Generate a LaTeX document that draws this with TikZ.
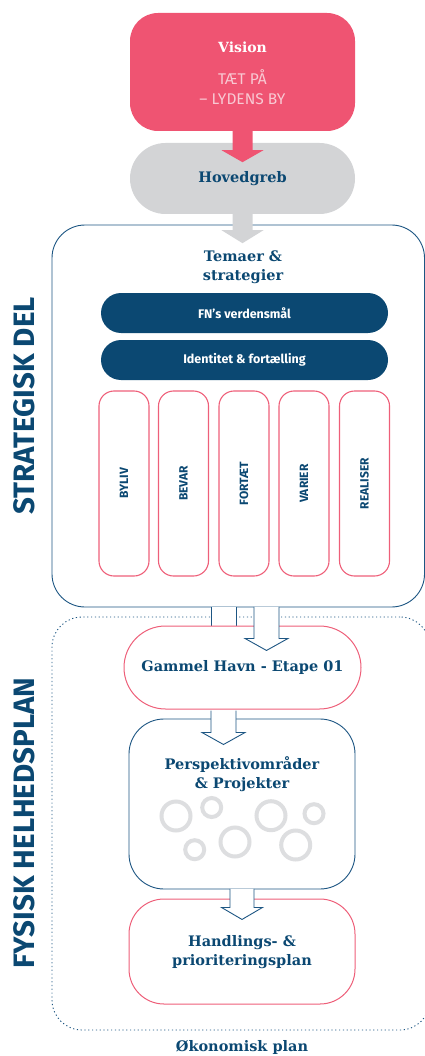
\documentclass[tikz,border=0pt]{standalone}
\usepackage{fontspec}
\setmainfont{DejaVu Serif}
\newfontfamily\fira{Fira Sans}
\usetikzlibrary{calc}

\definecolor{vispink}{HTML}{EF5472}
\definecolor{palepink}{HTML}{F8C9D3}
\definecolor{linepink}{HTML}{EE5F79}
\definecolor{darkblue}{HTML}{0B4872}
\definecolor{lineblue}{HTML}{1D5683}
\definecolor{greybox}{HTML}{D3D4D6}
\definecolor{bubblegrey}{HTML}{DDDEE0}

\tikzset{
  headtext/.style={text=darkblue, font=\bfseries\fontsize{14.5}{19}\selectfont, align=center},
  pill/.style={fill=darkblue, text=white, font=\fira\bfseries\fontsize{12.5}{14}\selectfont,
    rounded corners=20pt, minimum width=287pt, minimum height=40pt},
  themebox/.style={draw=linepink, line width=1.1pt, rounded corners=15pt, rotate=90,
    minimum width=185pt, minimum height=50pt, text=darkblue, font=\fira\bfseries\fontsize{12}{12}\selectfont},
  pinkbox/.style={draw=linepink, line width=1pt, fill=white},
  bluebox/.style={draw=lineblue, line width=0.9pt, fill=white},
  blockarrow/.style={draw=lineblue, fill=white, line width=0.9pt},
  bubble/.style={draw=bubblegrey, line width=4pt},
  sidetext/.style={rotate=90, text=darkblue, font=\fira\bfseries\fontsize{29.5}{30}\selectfont}
}

\begin{document}
\begin{tikzpicture}[x=1pt,y=-1pt,every node/.style={inner sep=0pt}]
\useasboundingbox (0,0) rectangle (425,1056);

% frames
\node[draw=lineblue, line width=0.9pt, dash pattern=on 1.2pt off 2.6pt, rounded corners=30pt,
  minimum width=378pt, minimum height=413pt] (fysisk) at (241,823.5) {};
\node[draw=lineblue, line width=0.9pt, rounded corners=33pt,
  minimum width=372.5pt, minimum height=382pt] (strat) at (238.25,416) {};

\node[sidetext] (stratlbl) at (24,406) {STRATEGISK DEL};
\node[sidetext] (fysisklbl) at (24,823) {FYSISK HELHEDSPLAN};

% top
\node[fill=vispink, rounded corners=28pt, minimum width=225pt, minimum height=118pt] (vision) at (242.5,72) {};
\node[text=white, font=\bfseries\fontsize{14}{16}\selectfont] (visiontitle) at (242.5,47) {Vision};
\node[text=palepink, font=\fira\fontsize{15.5}{20}\selectfont, align=center] (visiontext) at (242.5,87) {TÆT PÅ\\– LYDENS BY};

\node[fill=greybox, rounded corners=35.5pt, minimum width=225pt, minimum height=71pt] (hoved) at (242.5,178.5) {};
\node[headtext] (hovedlbl) at (hoved) {Hovedgreb};

\fill[vispink] (vision.south) ++(-10,-1) -- ++(0,20) -- ++(-11,0) -- ++(21,12) -- ++(21,-12) -- ++(-11,0) -- ++(0,-20) -- cycle;
\fill[greybox] (hoved.south) ++(-10,-1) -- ++(0,17) -- ++(-11,0) -- ++(21,13) -- ++(21,-13) -- ++(-11,0) -- ++(0,-17) -- cycle;

% strategisk del
\node[headtext] (temaer) at (243,267) {Temaer \&\\strategier};
\node[pill] (fn) at (244.5,313) {FN’s verdensmål};
\node[pill] (ident) at (244.5,360) {Identitet \& fortælling};

\foreach \lbl/\xx [count=\i] in {BYLIV/124,BEVAR/183.5,FORTÆT/244,VARIER/304,REALISER/364.5}
  \node[themebox] (theme\i) at (\xx,483.5) {\lbl};

% notch under the frame
\fill[white] ([xshift=-27.25pt]strat.south) rectangle ([xshift=-2.25pt]strat.south |- 0,626);
\draw[lineblue, line width=0.9pt] ([xshift=-27.25pt]strat.south) -- ++(0,19)
  ([xshift=-2.25pt]strat.south) -- ++(0,19);

% fysisk helhedsplan
\node[pinkbox, rounded corners=41.5pt, minimum width=237pt, minimum height=83pt] (gammel) at (242.5,667.5) {};
\node[headtext] (gammellbl) at (gammel) {Gammel Havn - Etape 01};

\draw[blockarrow] ([xshift=28.25pt]strat.south) ++(-12.5,-0.5) -- ++(0,31.5) -- ++(-9,0) -- ++(21.5,12)
  -- ++(21.5,-12) -- ++(-9,0) -- ++(0,-31.5);

\node[bluebox, rounded corners=35pt, minimum width=226pt, minimum height=170pt] (persp) at (242,804) {};
\node[headtext] (persplbl) at (242,774) {Perspektivområder\\\& Projekter};

\draw[blockarrow] ([xshift=-19pt]gammel.south) ++(-12.5,1) -- ++(0,22) -- ++(-9,0) -- ++(21.5,12)
  -- ++(21.5,-12) -- ++(-9,0) -- ++(0,-22);

\draw[bubble] (176,816) circle (14.5) (211.7,807.5) circle (9.5) (271,815.7) circle (14.5)
  (314,813.7) circle (9.5) (194.7,849.7) circle (9.5) (235,842) circle (14.5) (295.7,845) circle (14.5);

\node[pinkbox, rounded corners=35pt, minimum width=226pt, minimum height=105pt] (handling) at (242,951.5) {};
\node[headtext] (handlinglbl) at (242,952) {Handlings- \&\\prioriteringsplan};

\draw[blockarrow] (persp.south) ++(-12,-0.5) -- ++(0,18.5) -- ++(-8.5,0) -- ++(20.5,12)
  -- ++(20.5,-12) -- ++(-8.5,0) -- ++(0,-18.5);

\node[headtext] (okonomi) at (242,1047) {Økonomisk plan};
\end{tikzpicture}
\end{document}
